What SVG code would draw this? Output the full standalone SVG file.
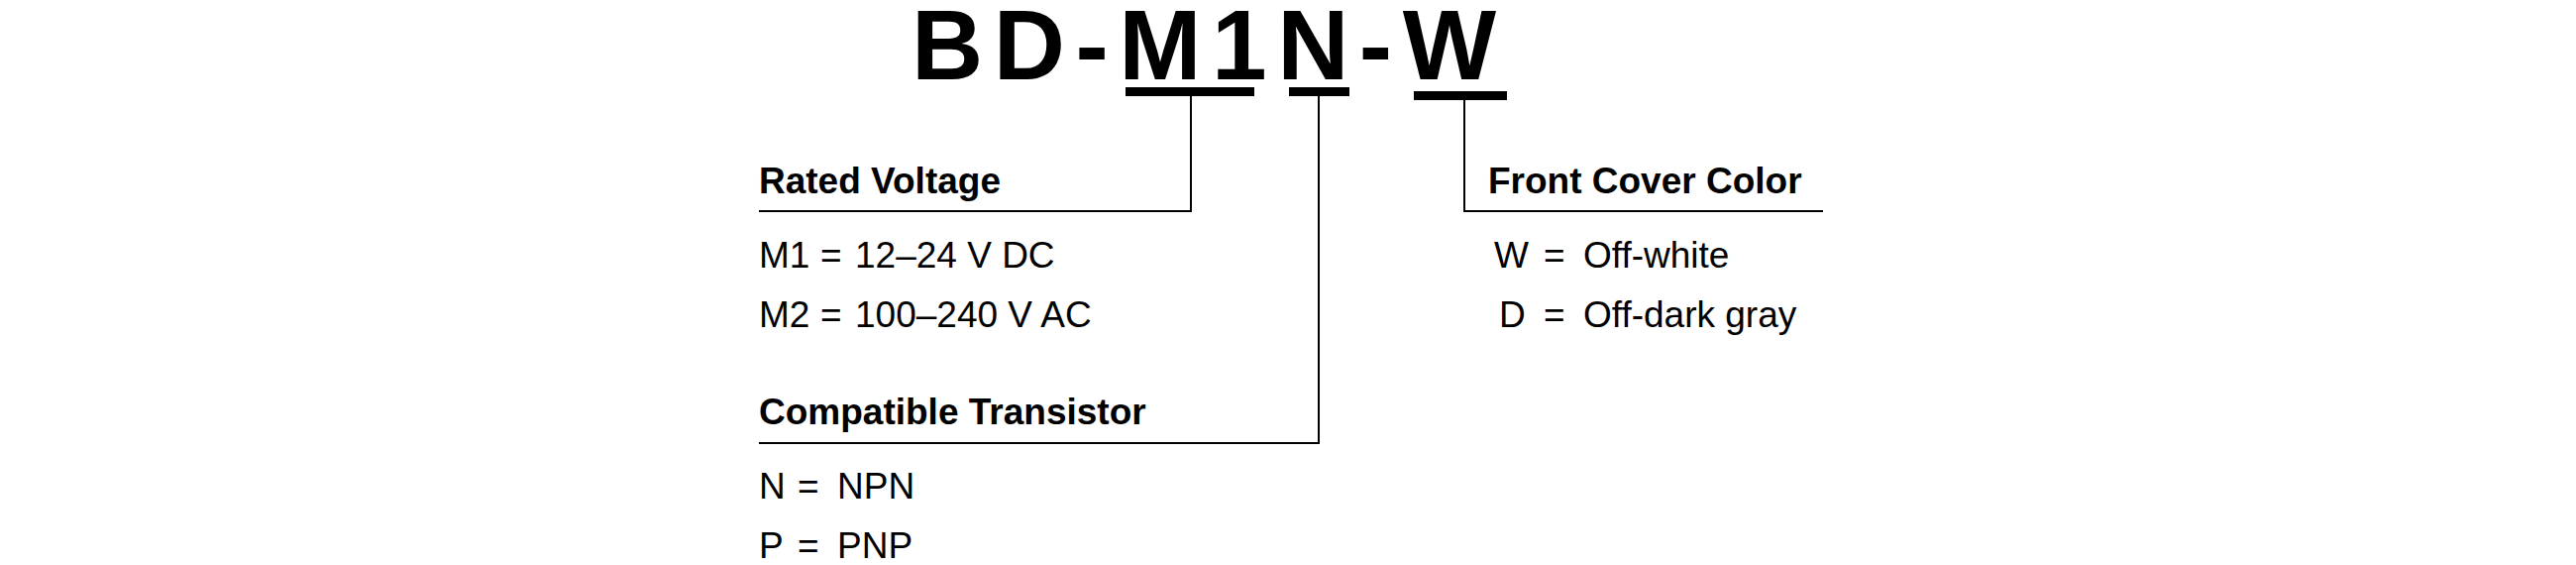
<svg xmlns="http://www.w3.org/2000/svg" width="2600" height="570" viewBox="0 0 2600 570">
<style>
text{font-family:"Liberation Sans",Arial,sans-serif;fill:#000}
.t{font-size:100px;font-weight:bold;letter-spacing:10.5px}
.h{font-size:37px;font-weight:bold}
.r{font-size:37px}
.c{stroke:#000;stroke-width:2;fill:none}
</style>
<rect width="2600" height="570" fill="#fff"/>
<g transform="translate(-5,0)">
<g id="title"><text class="t" x="925" y="80">BD-M1N-W</text>
<rect x="1141" y="88" width="130" height="9"/><rect x="1306" y="88" width="61" height="9"/><rect x="1432" y="92" width="94" height="9"/></g>
<g id="connectors">
<polyline class="c" points="1207,97 1207,213 771,213"/>
<polyline class="c" points="1336,97 1336,447 771,447"/>
<polyline class="c" points="1483,101 1483,213 1845,213"/>
</g>
<g id="rated"><text class="h" x="771" y="195">Rated Voltage</text>
<text class="r" x="771" y="270">M1</text><text class="r" x="833" y="270">=</text><text class="r" x="868" y="270">12–24 V DC</text>
<text class="r" x="771" y="330">M2</text><text class="r" x="833" y="330">=</text><text class="r" x="868" y="330">100–240 V AC</text></g>
<g id="transistor"><text class="h" x="771" y="428">Compatible Transistor</text>
<text class="r" x="771" y="503">N</text><text class="r" x="810" y="503">=</text><text class="r" x="850" y="503">NPN</text>
<text class="r" x="771" y="563">P</text><text class="r" x="810" y="563">=</text><text class="r" x="850" y="563">PNP</text></g>
<g id="color"><text class="h" x="1507" y="195">Front Cover Color</text>
<text class="r" x="1513" y="270">W</text><text class="r" x="1563" y="270">=</text><text class="r" x="1603" y="270">Off-white</text>
<text class="r" x="1518" y="330">D</text><text class="r" x="1563" y="330">=</text><text class="r" x="1603" y="330">Off-dark gray</text></g>
</g>
</svg>
